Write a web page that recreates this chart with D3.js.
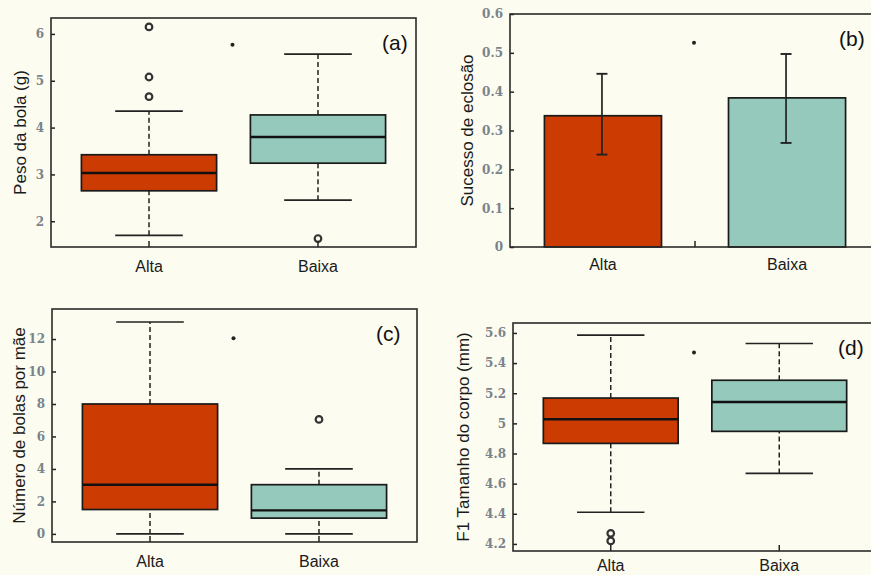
<!DOCTYPE html>
<html>
<head>
<meta charset="utf-8">
<script src="https://cdn.jsdelivr.net/npm/d3@7"></script>
<style>
  body { margin: 0; background: #fdfcf0; }
  svg { display: block; }
  .tick text { font-family: "DejaVu Serif", serif; font-weight: bold; font-size: 12px; fill: #7a848b; }
</style>
</head>
<body>
<div id="chart"></div>
<script>
// categories
const groups = ["Alta", "Baixa"]

// (a) Peso da bola (g): [min whisker, q1, median, q3, max whisker]
const pesoStats = [[1.7, 2.65, 3.03, 3.42, 4.35], [2.45, 3.24, 3.8, 4.27, 5.57]]
const pesoOutliers = [[6.15, 5.08, 4.66], [1.63]]
const pesoTicks = [2, 3, 4, 5, 6]

// (b) Sucesso de eclosão: mean, lower, upper
const sucessoMean = [0.338, 0.384]
const sucessoLow = [0.238, 0.268]
const sucessoHigh = [0.446, 0.497]
const sucessoTicks = [0, 0.1, 0.2, 0.3, 0.4, 0.5, 0.6]

// (c) Número de bolas por mãe
const numeroStats = [[0, 1.5, 3.03, 8.0, 13.05], [0, 0.97, 1.45, 3.03, 4.0]]
const numeroOutliers = [[], [7.05]]
const numeroTicks = [0, 2, 4, 6, 8, 10, 12]

// (d) F1 Tamanho do corpo (mm)
const tamanhoStats = [[4.41, 4.867, 5.027, 5.168, 5.585], [4.668, 4.947, 5.142, 5.286, 5.53]]
const tamanhoOutliers = [[4.27, 4.22], []]
const tamanhoTicks = [4.2, 4.4, 4.6, 4.8, 5, 5.2, 5.4, 5.6]

// significance dots between the groups
const markerValues = [5.77, 0.526, 12.05, 5.47]

const red = "#cc3b02", teal = "#95c9bb"
const fills = [red, teal]

const svg = d3.select("#chart").append("svg")
    .attr("width", 871).attr("height", 575)

svg.append("rect").attr("width", 871).attr("height", 575).attr("fill", "#fdfcf0")

function setupPanel(box, domain, ticks, tickFmt, title, letter, titleX, xLabelY){
    const g = svg.append("g")
    const x = d3.scalePoint().domain(groups).range([box.left, box.right]).padding(box.pad)
    const y = d3.scaleLinear().domain(domain).range([box.bottom, box.top])

    // y axis with inward ticks
    const ya = g.append("g").attr("transform", `translate(${box.left},0)`)
        .call(d3.axisLeft(y).tickValues(ticks).tickFormat(tickFmt).tickSizeInner(-4).tickSizeOuter(0).tickPadding(7))
    ya.select(".domain").remove()
    ya.selectAll(".tick line").attr("stroke", "#222").attr("stroke-width", 1.5)

    // y title
    g.append("text")
        .attr("transform", `translate(${titleX},${(box.top + box.bottom) / 2}) rotate(-90)`)
        .attr("text-anchor", "middle")
        .style("font-family", "Liberation Sans, Arial, sans-serif")
        .style("font-size", "17px").style("fill", "#1a1a1a")
        .text(title)

    // x labels
    g.selectAll(".xl").data(groups).join("text")
        .attr("x", d => x(d)).attr("y", xLabelY)
        .attr("text-anchor", "middle")
        .style("font-family", "Liberation Sans, Arial, sans-serif")
        .style("font-size", "16px").style("fill", "#1a1a1a")
        .text(d => d)

    // panel letter
    g.append("text")
        .attr("x", box.letterX).attr("y", box.top + 32)
        .style("font-family", "Liberation Sans, Arial, sans-serif")
        .style("font-size", "21px").style("fill", "#111")
        .text(letter)

    return {g, x, y}
}

function frame(g, box){
    g.append("rect")
        .attr("x", box.left).attr("y", box.top)
        .attr("width", box.right - box.left).attr("height", box.bottom - box.top)
        .attr("fill", "none").attr("stroke", "#2a2a2a").attr("stroke-width", 1.6)
}

function bottomTicks(g, box, positions){
    g.selectAll(".bt").data(positions).join("line")
        .attr("x1", d => d).attr("x2", d => d)
        .attr("y1", box.bottom).attr("y2", box.bottom - 6)
        .attr("stroke", "#222").attr("stroke-width", 1.5)
}

function marker(g, x, y, v){
    g.append("circle")
        .attr("cx", (x(groups[0]) + x(groups[1])) / 2 - 1).attr("cy", y(v))
        .attr("r", 2).attr("fill", "#222")
}

function drawBoxPanel(box, stats, outliers, domain, ticks, tickFmt, title, letter, titleX, xLabelY, markerV){
    const {g, x, y} = setupPanel(box, domain, ticks, tickFmt, title, letter, titleX, xLabelY)
    const bw = x.step() * 0.8
    const cw = bw / 2

    groups.forEach((grp, i) => {
        const s = stats[i]
        const cx = x(grp)
        // whiskers
        g.append("line").attr("x1", cx).attr("x2", cx).attr("y1", y(s[0])).attr("y2", y(s[1]))
            .attr("stroke", "#222").attr("stroke-width", 1.5).attr("stroke-dasharray", "5,3")
        g.append("line").attr("x1", cx).attr("x2", cx).attr("y1", y(s[3])).attr("y2", y(s[4]))
            .attr("stroke", "#222").attr("stroke-width", 1.5).attr("stroke-dasharray", "5,3")
        // caps
        ;[s[0], s[4]].forEach(v => {
            g.append("line").attr("x1", cx - cw / 2).attr("x2", cx + cw / 2).attr("y1", y(v)).attr("y2", y(v))
                .attr("stroke", "#222").attr("stroke-width", 1.7)
        })
        // box
        g.append("rect").attr("x", cx - bw / 2).attr("width", bw)
            .attr("y", y(s[3])).attr("height", y(s[1]) - y(s[3]))
            .attr("fill", fills[i]).attr("stroke", "#1a1a1a").attr("stroke-width", 1.7)
        // median
        g.append("line").attr("x1", cx - bw / 2).attr("x2", cx + bw / 2).attr("y1", y(s[2])).attr("y2", y(s[2]))
            .attr("stroke", "#111").attr("stroke-width", 2.4)
        // outliers
        g.selectAll(".o" + i).data(outliers[i] || []).join("circle")
            .attr("cx", cx).attr("cy", d => y(d)).attr("r", 3.3)
            .attr("fill", "none").attr("stroke", "#333").attr("stroke-width", 2.2)
    })
    bottomTicks(g, box, groups.map(d => x(d)))
    marker(g, x, y, markerV)
    frame(g, box)
}

// (a)
drawBoxPanel({left: 51, right: 416, top: 18, bottom: 247, pad: 0.58, letterX: 382},
    pesoStats, pesoOutliers, [1.45, 6.34], pesoTicks, d3.format("d"),
    "Peso da bola (g)", "(a)", 26, 272, markerValues[0])

// (c)
drawBoxPanel({left: 52, right: 417, top: 309, bottom: 542, pad: 0.58, letterX: 376},
    numeroStats, numeroOutliers, [-0.5, 13.85], numeroTicks, d3.format("d"),
    "Número de bolas por mãe", "(c)", 25, 567, markerValues[2])

// (d)
drawBoxPanel({left: 513, right: 877, top: 323, bottom: 551, pad: 0.58, letterX: 838},
    tamanhoStats, tamanhoOutliers, [4.153, 5.666], tamanhoTicks, d => d === 5 ? "5" : d3.format(".1f")(d),
    "F1 Tamanho  do corpo (mm)", "(d)", 469, 571, markerValues[3])

// (b) bar chart with error bars
{
    const box = {left: 510, right: 880, top: 14, bottom: 247, pad: 0.505, letterX: 839}
    const {g, x, y} = setupPanel(box, [0, 0.6], sucessoTicks, d => d === 0 ? "0" : d3.format(".1f")(d),
        "Sucesso de eclosão", "(b)", 473, 270)
    const bw = x.step() * 0.636
    g.selectAll(".bar").data(groups).join("rect")
        .attr("x", d => x(d) - bw / 2).attr("width", bw)
        .attr("y", (d, i) => y(sucessoMean[i])).attr("height", (d, i) => y(0) - y(sucessoMean[i]))
        .attr("fill", (d, i) => fills[i]).attr("stroke", "#1a1a1a").attr("stroke-width", 1.7)
    groups.forEach((grp, i) => {
        const cx = x(grp) - 1
        g.append("line").attr("x1", cx).attr("x2", cx).attr("y1", y(sucessoLow[i])).attr("y2", y(sucessoHigh[i]))
            .attr("stroke", "#222").attr("stroke-width", 1.7)
        ;[sucessoLow[i], sucessoHigh[i]].forEach(v => {
            g.append("line").attr("x1", cx - 5.5).attr("x2", cx + 5.5).attr("y1", y(v)).attr("y2", y(v))
                .attr("stroke", "#222").attr("stroke-width", 1.9)
        })
    })
    bottomTicks(g, box, [(x(groups[0]) + x(groups[1])) / 2])
    marker(g, x, y, markerValues[1])
    frame(g, box)
}
</script>
</body>
</html>
